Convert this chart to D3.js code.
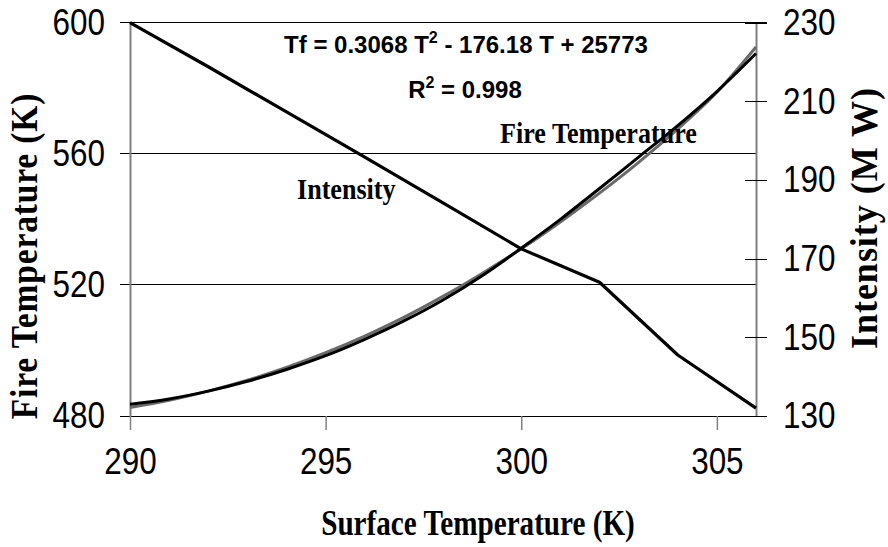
<!DOCTYPE html>
<html>
<head>
<meta charset="utf-8">
<script src="https://cdn.jsdelivr.net/npm/d3@7"></script>
<style>
  html, body { margin: 0; padding: 0; background: #fff; }
  svg { display: block; }
</style>
</head>
<body>
<svg id="chart"></svg>
<script>
// surface temperature (K) for the intensity series
const intensityT = [290, 292, 294, 296, 298, 300, 302, 304, 306];
const intensity = [230, 218.8, 207.3, 195.8, 184.2, 172.5, 164, 145.5, 132]; // MW

// fire temperature readings (K)
const fireT = [290, 291, 292, 293, 294, 295, 296, 297, 298, 299, 300, 301, 302, 303, 304, 305, 306];
const fireTemp = [483.6, 485.2, 487.6, 490.6, 494.2, 498.4, 503.4, 509.0, 515.4, 522.8, 531.2, 540.0, 549.4, 559.0, 568.6, 579.0, 590.6];
// polynomial trendline as drawn
const fireTrend = [482.6, 484.8, 487.6, 490.9, 494.8, 499.3, 504.4, 510.1, 516.5, 523.5, 531.0, 539.2, 548.0, 557.4, 567.6, 578.8, 592.6];

const xTicks = [290, 295, 300, 305];
const leftTicks = [480, 520, 560, 600];
const rightTicks = [130, 150, 170, 190, 210, 230];

const width = 888, height = 547;
const plotLeft = 130, plotRight = 756, plotTop = 22.7, plotBottom = 416;

const svg = d3.select("#chart")
    .attr("width", width)
    .attr("height", height)
    .attr("viewBox", [0, 0, width, height]);

const x = d3.scaleLinear().domain([290, 306]).range([plotLeft, plotRight]);
const yL = d3.scaleLinear().domain([480, 600]).range([plotBottom, plotTop]);
const yR = d3.scaleLinear().domain([130, 230]).range([plotBottom, plotTop]);

const tickFont = "'Liberation Sans', Arial, sans-serif";
const serif = "'Liberation Serif', 'Times New Roman', serif";
const squeeze = 0.85; // tick labels are narrow

// tick label styling, squeezed horizontally around their anchor
function styleTicks(g) {
  g.selectAll(".tick text")
      .attr("fill", "#000")
      .attr("font-family", tickFont)
      .attr("font-size", 37)
      .attr("x", function() { return (+this.getAttribute("x") || 0) / squeeze; })
      .attr("transform", `scale(${squeeze},1)`);
}

// horizontal gridlines (they double as the left ticks)
svg.append("g")
  .selectAll("line")
  .data(leftTicks)
  .join("line")
    .attr("x1", plotLeft - 10)
    .attr("x2", d => (d === 480 || d === 600) ? plotRight + 11 : plotRight)
    .attr("y1", d => yL(d))
    .attr("y2", d => yL(d))
    .attr("stroke", "#000")
    .attr("stroke-width", 1)
    .attr("shape-rendering", "crispEdges");

// x axis
svg.append("g")
    .attr("transform", `translate(0,${plotBottom})`)
    .call(d3.axisBottom(x).tickValues(xTicks).tickSize(14).tickPadding(18).tickFormat(d3.format("d")))
    .call(g => g.select(".domain").remove())
    .call(g => g.selectAll(".tick line").attr("stroke", "#808080").attr("stroke-width", 1.5))
    .call(styleTicks);

// left axis
svg.append("g")
    .attr("transform", `translate(${plotLeft},0)`)
    .call(d3.axisLeft(yL).tickValues(leftTicks).tickSize(0).tickPadding(25).tickFormat(d3.format("d")))
    .call(g => g.select(".domain").attr("stroke", "#808080").attr("stroke-width", 2))
    .call(g => g.selectAll(".tick line").remove())
    .call(styleTicks);

// right axis, ticks cross the axis line
svg.append("g")
    .attr("transform", `translate(${plotRight},0)`)
    .call(d3.axisRight(yR).tickValues(rightTicks).tickSize(11).tickPadding(16).tickSizeOuter(0).tickFormat(d3.format("d")))
    .call(g => g.select(".domain").attr("stroke", "#808080").attr("stroke-width", 2))
    .call(g => g.selectAll(".tick line").attr("x1", -11).attr("stroke", "#000").attr("shape-rendering", "crispEdges"))
    .call(styleTicks);

// trendline, then the fire temperature data, then intensity
const fireLine = d3.line().x((d, i) => x(fireT[i])).y(d => yL(d)).curve(d3.curveMonotoneX);

svg.append("path")
    .attr("d", fireLine(fireTrend))
    .attr("fill", "none")
    .attr("stroke", "#6a6a6a")
    .attr("stroke-width", 3);

svg.append("path")
    .attr("d", fireLine(fireTemp))
    .attr("fill", "none")
    .attr("stroke", "#000")
    .attr("stroke-width", 3);

svg.append("path")
    .attr("d", d3.line().x((d, i) => x(intensityT[i])).y(d => yR(d))(intensity))
    .attr("fill", "none")
    .attr("stroke", "#000")
    .attr("stroke-width", 3.2)
    .attr("stroke-linejoin", "round");

// equation and R squared
const eq = svg.append("text")
    .attr("x", 466)
    .attr("y", 53)
    .attr("text-anchor", "middle")
    .attr("font-family", tickFont)
    .attr("font-weight", "bold")
    .attr("font-size", 24);
eq.append("tspan").text("Tf = 0.3068 T");
eq.append("tspan").attr("font-size", 16).attr("dy", -10).text("2");
eq.append("tspan").attr("dy", 10).text(" - 176.18 T + 25773");

const r2 = svg.append("text")
    .attr("x", 465)
    .attr("y", 98)
    .attr("text-anchor", "middle")
    .attr("font-family", tickFont)
    .attr("font-weight", "bold")
    .attr("font-size", 24);
r2.append("tspan").text("R");
r2.append("tspan").attr("font-size", 16).attr("dy", -10).text("2");
r2.append("tspan").attr("dy", 10).text(" = 0.998");

// series labels
svg.append("text")
    .attr("transform", "translate(500,143) scale(0.9,1)")
    .attr("font-family", serif)
    .attr("font-weight", "bold")
    .attr("font-size", 29)
    .text("Fire Temperature");

svg.append("text")
    .attr("transform", "translate(297,199) scale(0.9,1)")
    .attr("font-family", serif)
    .attr("font-weight", "bold")
    .attr("font-size", 29)
    .text("Intensity");

// axis titles
svg.append("text")
    .attr("transform", "translate(478,535) scale(0.81,1)")
    .attr("text-anchor", "middle")
    .attr("font-family", serif)
    .attr("font-weight", "bold")
    .attr("font-size", 36)
    .text("Surface Temperature (K)");

svg.append("text")
    .attr("transform", "translate(37,256) rotate(-90) scale(0.88,1)")
    .attr("text-anchor", "middle")
    .attr("font-family", serif)
    .attr("font-weight", "bold")
    .attr("font-size", 38)
    .attr("letter-spacing", 1)
    .text("Fire Temperature (K)");

svg.append("text")
    .attr("transform", "translate(877,218) rotate(-90) scale(0.95,1)")
    .attr("text-anchor", "middle")
    .attr("font-family", serif)
    .attr("font-weight", "bold")
    .attr("font-size", 38)
    .attr("letter-spacing", 1)
    .text("Intensity (M W)");
</script>
</body>
</html>
